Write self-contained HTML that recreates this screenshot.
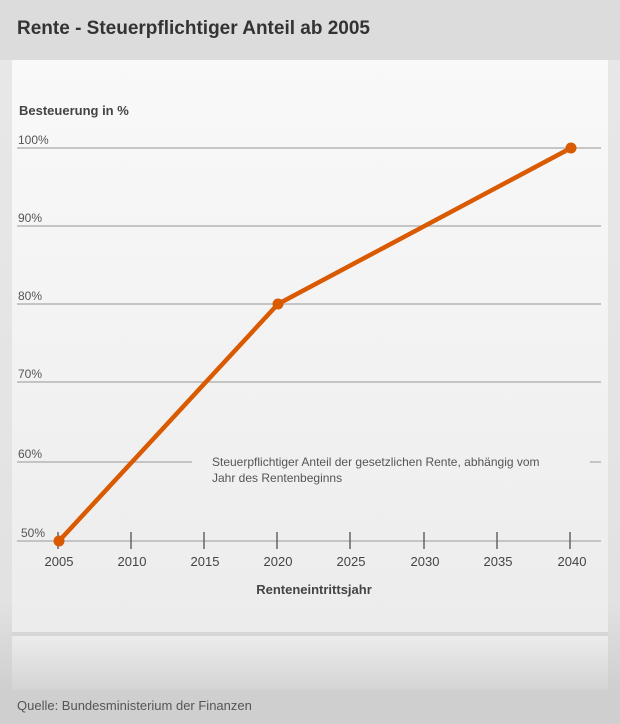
<!DOCTYPE html>
<html><head><meta charset="utf-8"><style>
body{margin:0;width:620px;height:724px;overflow:hidden;font-family:"Liberation Sans",sans-serif;background:linear-gradient(#e8e8e8 0,#e2e2e2 600px,#cfcfcf 690px,#cfcfcf 724px);position:relative}
.hdr{position:absolute;left:0;top:0;width:620px;height:60px;background:#dcdcdc}
.hdr div{position:absolute;left:17px;top:18px;font-size:19px;font-weight:bold;color:#333}
.panel{position:absolute;left:12px;top:60px;width:596px;height:572px;background:linear-gradient(#f9f9f9,#ececec)}
.sep{position:absolute;left:12px;top:632px;width:596px;height:4px;background:#d6d6d6}
.p2{position:absolute;left:12px;top:636px;width:596px;height:54px;background:linear-gradient(#ececec,#d4d4d4)}
.src{position:absolute;left:17px;top:698px;font-size:13px;color:#555}
svg{position:absolute;left:0;top:0}
</style></head><body>
<div class="hdr"><div>Rente - Steuerpflichtiger Anteil ab 2005</div></div>
<div class="panel"></div><div class="sep"></div><div class="p2"></div>
<div class="src">Quelle: Bundesministerium der Finanzen</div>
<svg width="620" height="724" font-family="Liberation Sans, sans-serif">
<text x="19" y="115" font-size="13" font-weight="bold" fill="#444">Besteuerung in %</text>
<g stroke="#b5b5b5" stroke-width="1.5">
<line x1="17" x2="601" y1="148" y2="148"/><line x1="17" x2="601" y1="226" y2="226"/>
<line x1="17" x2="601" y1="304" y2="304"/><line x1="17" x2="601" y1="382" y2="382"/>
<line x1="17" x2="192" y1="462" y2="462"/><line x1="590" x2="601" y1="462" y2="462"/>
<line x1="17" x2="601" y1="541" y2="541"/></g>
<g font-size="12" fill="#555">
<text x="18" y="144">100%</text><text x="18" y="222">90%</text><text x="18" y="300">80%</text>
<text x="18" y="378">70%</text><text x="18" y="458">60%</text><text x="21" y="537">50%</text></g>
<g stroke="#666" stroke-width="1.5">
<line x1="58" x2="58" y1="532" y2="549"/><line x1="131" x2="131" y1="532" y2="549"/>
<line x1="204" x2="204" y1="532" y2="549"/><line x1="277" x2="277" y1="532" y2="549"/>
<line x1="350" x2="350" y1="532" y2="549"/><line x1="424" x2="424" y1="532" y2="549"/>
<line x1="497" x2="497" y1="532" y2="549"/><line x1="570" x2="570" y1="532" y2="549"/></g>
<g font-size="13" fill="#444" text-anchor="middle">
<text x="59" y="566">2005</text><text x="132" y="566">2010</text><text x="205" y="566">2015</text>
<text x="278" y="566">2020</text><text x="351" y="566">2025</text><text x="425" y="566">2030</text>
<text x="498" y="566">2035</text><text x="572" y="566">2040</text></g>
<text x="314" y="594" font-size="13" font-weight="bold" fill="#444" text-anchor="middle">Renteneintrittsjahr</text>
<text font-size="12" fill="#555"><tspan x="212" y="466">Steuerpflichtiger Anteil der gesetzlichen Rente, abhängig vom</tspan><tspan x="212" y="482">Jahr des Rentenbeginns</tspan></text>
<polyline points="59,541 278,304 571,148" fill="none" stroke="#d95a00" stroke-width="4.5" stroke-linejoin="round"/>
<circle cx="59" cy="541" r="5.5" fill="#d95a00"/><circle cx="278" cy="304" r="5.5" fill="#d95a00"/><circle cx="571" cy="148" r="5.5" fill="#d95a00"/>
</svg>
</body></html>
